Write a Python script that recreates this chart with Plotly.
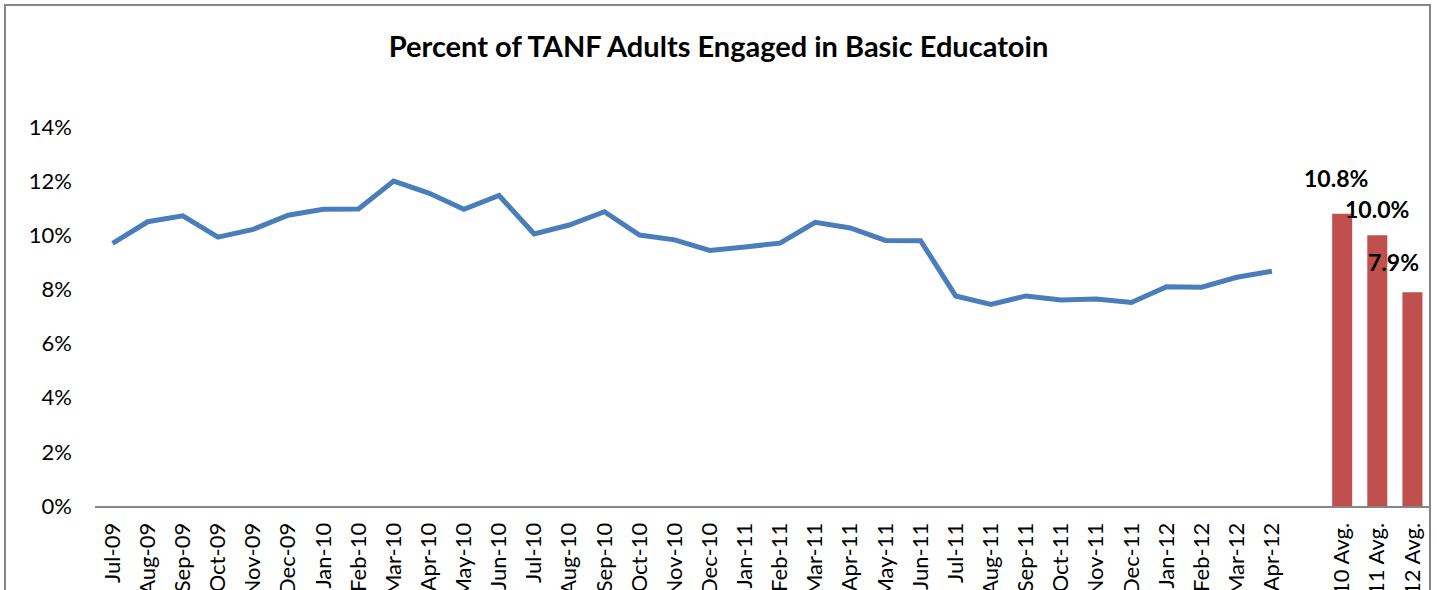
import plotly.graph_objects as go

months = ["Jul-09", "Aug-09", "Sep-09", "Oct-09", "Nov-09", "Dec-09",
          "Jan-10", "Feb-10", "Mar-10", "Apr-10", "May-10", "Jun-10",
          "Jul-10", "Aug-10", "Sep-10", "Oct-10", "Nov-10", "Dec-10",
          "Jan-11", "Feb-11", "Mar-11", "Apr-11", "May-11", "Jun-11",
          "Jul-11", "Aug-11", "Sep-11", "Oct-11", "Nov-11", "Dec-11",
          "Jan-12", "Feb-12", "Mar-12", "Apr-12"]
monthly_pct = [0.0970, 0.1050, 0.1072, 0.0993, 0.1022, 0.1074,
               0.1096, 0.1097, 0.1200, 0.1156, 0.1096, 0.1147,
               0.1005, 0.1038, 0.1087, 0.1001, 0.0983, 0.0944,
               0.0957, 0.0971, 0.1048, 0.1027, 0.0981, 0.0980,
               0.0776, 0.0745, 0.0776, 0.0761, 0.0765, 0.0752,
               0.0810, 0.0808, 0.0845, 0.0867]
avg_labels = ["FY10 Avg.", "FY11 Avg.", "FY12 Avg."]
avg_pct = [0.108, 0.100, 0.079]
spacer = [" "]
categories = months + spacer + avg_labels
y_ticks = [0, 0.02, 0.04, 0.06, 0.08, 0.10, 0.12, 0.14]

FONT = "Lato"
BLUE = "#4A7EBB"
RED = "#C0504D"
GRAY = "#868686"

fig = go.Figure()
fig.add_trace(go.Scatter(x=months, y=monthly_pct, mode="lines",
                         line=dict(color=BLUE, width=5), showlegend=False))
fig.add_trace(go.Bar(x=avg_labels, y=avg_pct, marker=dict(color=RED, line=dict(width=0)),
                     showlegend=False))

# data labels for the averages
label_shift = [(-6, 36), (0, 26), (-19, 30)]
for lab, v, (dx, dy) in zip(avg_labels, avg_pct, label_shift):
    fig.add_annotation(x=lab, y=v, text=f"{v*100:.1f}%", showarrow=False,
                       xshift=dx, yshift=dy, yanchor="middle",
                       font=dict(family=FONT, size=23, color="black", weight="bold"))

# chart border (Excel chart area frame)
L, R, T, B = 95, 1430, 127, 506
pw, ph = R - L, B - T
fig.add_shape(type="rect", xref="paper", yref="paper",
              x0=(5 - L) / pw, x1=(1430 - L) / pw,
              y0=-0.6, y1=(B - 5) / ph,
              line=dict(color=GRAY, width=2), fillcolor="rgba(0,0,0,0)", layer="above")

fig.update_layout(
    width=1437, height=590,
    margin=dict(l=L, r=1437 - R, t=T, b=590 - B, autoexpand=False),
    paper_bgcolor="white", plot_bgcolor="white",
    bargap=0.43,
    title=dict(text="<b>Percent of TANF Adults Engaged in Basic Educatoin</b>",
               x=0.5, xref="container", y=1 - 47 / 590, yref="container",
               xanchor="center", yanchor="middle",
               font=dict(family=FONT, size=29, color="black")),
    xaxis=dict(type="category", categoryorder="array", categoryarray=categories,
               range=[-0.5, len(categories) - 0.5],
               showline=True, linecolor=GRAY, linewidth=2, showgrid=False,
               ticks="", tickangle=-90, automargin=False, ticklabelstandoff=6,
               tickfont=dict(family=FONT, size=22, color="black")),
    yaxis=dict(range=[0, 0.14], tickvals=y_ticks, tickformat=".0%",
               showline=False, showgrid=False, zeroline=False, ticks="",
               automargin=False, ticklabelstandoff=22,
               tickfont=dict(family=FONT, size=22, color="black")),
)

fig.write_html("out.html", config={"displayModeBar": False},
               post_script="document.body.style.margin='0';")
